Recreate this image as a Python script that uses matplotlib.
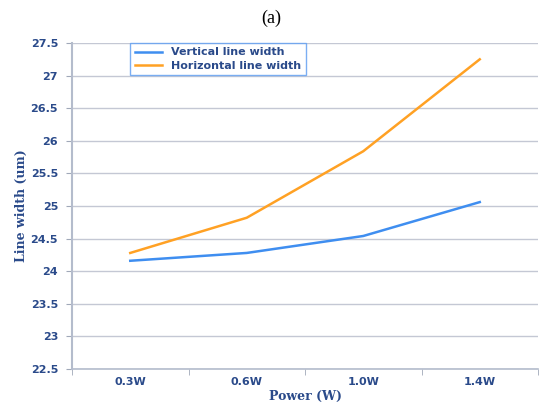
import matplotlib.pyplot as plt
import numpy as np

powers = ['0.3W', '0.6W', '1.0W', '1.4W']
vertical = [24.16, 24.28, 24.54, 25.06]
horizontal = [24.28, 24.82, 25.84, 27.25]
yticks = [22.5, 23, 23.5, 24, 24.5, 25, 25.5, 26, 26.5, 27, 27.5]

fig = plt.figure(figsize=(5.43, 4.07), dpi=100)
ax = fig.add_axes([0.1326, 0.0934, 0.8582, 0.8009])

x = np.arange(len(powers))
ax.plot(x, vertical, color='#3f8ef0', lw=1.8, label='Vertical line width')
ax.plot(x, horizontal, color='#ffa124', lw=1.8, label='Horizontal line width')

ax.set_xlim(-0.5, 3.5)
ax.set_ylim(22.5, 27.5)
ax.set_yticks(yticks)
ax.set_yticklabels([('%g' % v) for v in yticks])
ax.set_xticks(x)
ax.set_xticklabels(powers)
ax.set_xticks(np.arange(-0.5, 4, 1), minor=True)
ax.tick_params(axis='x', which='major', length=0, pad=6)
ax.tick_params(axis='x', which='minor', length=4, color='#a0a8b8')
ax.tick_params(axis='y', length=4, color='#a0a8b8', pad=6)
for lab in ax.get_xticklabels() + ax.get_yticklabels():
    lab.set_color('#2a4a8a')
    lab.set_fontsize(8)
    lab.set_fontweight('bold')

ax.grid(axis='y', color='#c4c8d4', lw=1)
ax.set_axisbelow(True)
for s in ['top', 'right']:
    ax.spines[s].set_visible(False)
ax.spines['left'].set_color('#b4bccc')
ax.spines['left'].set_linewidth(1.5)
ax.spines['bottom'].set_color('#b4bccc')
ax.spines['bottom'].set_linewidth(1.2)

ax.set_xlabel('Power (W)', family='DejaVu Serif', fontweight='bold', fontsize=9,
              color='#2a4a8a', labelpad=2)
ax.set_ylabel('Line width (um)', family='DejaVu Serif', fontweight='bold', fontsize=9,
              color='#2a4a8a', labelpad=2)

leg = ax.legend(loc='upper left', bbox_to_anchor=(0.125, 1.0), fontsize=8,
                frameon=True, fancybox=False, borderaxespad=0, handlelength=2.5,
                labelspacing=0.3)
leg.get_frame().set_edgecolor('#5a9af0')
leg.get_frame().set_linewidth(1)
for t in leg.get_texts():
    t.set_color('#2a4a8a')
    t.set_fontweight('bold')

fig.text(0.5, 0.955, '(a)', ha='center', va='center', family='Liberation Serif', fontsize=13)

fig.savefig('out.png')
